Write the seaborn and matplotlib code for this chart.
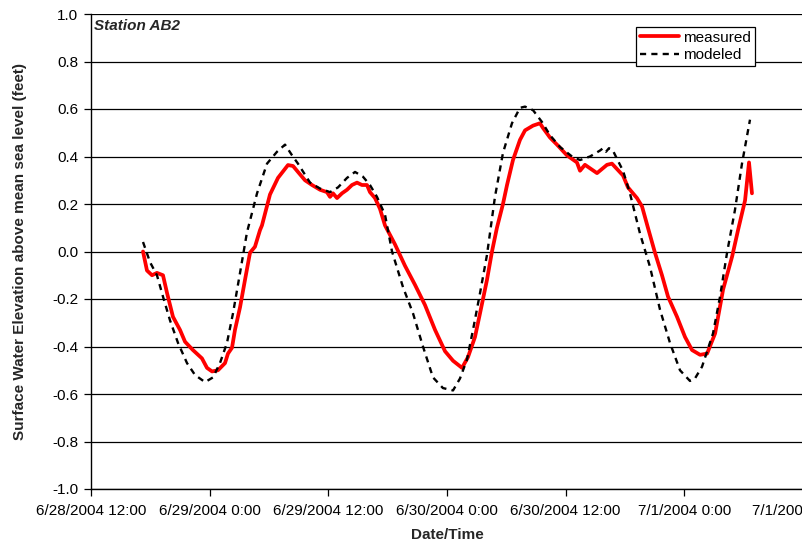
import matplotlib
matplotlib.use("Agg")
import matplotlib.pyplot as plt
import matplotlib.dates as mdates
from matplotlib.ticker import FuncFormatter
import pandas as pd
import seaborn as sns

# Tidal record, Station AB2 -- hours elapsed since 6/28/2004 12:00
START = "2004-06-28 12:00"

hours_measured = [
    5.26, 5.66, 6.17, 6.67, 7.28, 7.69, 8.29, 9.00, 9.51, 10.31, 11.22, 11.73,
    12.24, 12.84, 13.55, 13.85, 14.26, 14.56, 15.07, 15.57, 16.08, 16.58, 17.09,
    17.29, 18.10, 18.91, 19.92, 20.43, 20.93, 21.64, 22.35, 23.16, 23.86, 24.17,
    24.47, 24.88, 25.38, 25.89, 26.39, 26.90, 27.40, 27.91, 28.21, 28.72, 29.22,
    29.73, 30.74, 31.75, 32.76, 33.77, 34.79, 35.80,
    36.61, 37.52, 38.12, 38.83, 39.34, 40.04, 40.55, 41.05, 41.66, 42.07, 42.67,
    43.38, 43.89, 44.70, 45.40, 45.71, 46.41, 47.12, 48.13, 49.14, 49.45, 49.95,
    51.17, 52.18, 52.68, 53.80, 54.30, 55.21, 55.72, 56.32, 57.03, 57.74, 58.35,
    59.26, 60.07, 60.78, 61.59, 62.30, 63.11, 63.92, 64.84, 65.43, 66.14, 66.54,
    66.84,
]
level_measured = [
    0.00, -0.08, -0.10, -0.09, -0.10, -0.175, -0.275, -0.33, -0.38, -0.415, -0.45,
    -0.49, -0.505, -0.50, -0.47, -0.43, -0.405, -0.33, -0.235, -0.12, -0.005, 0.02,
    0.09, 0.11, 0.24, 0.31, 0.364, 0.36, 0.335, 0.30, 0.28, 0.26, 0.25, 0.23,
    0.245, 0.225, 0.245, 0.26, 0.28, 0.29, 0.28, 0.28, 0.25, 0.225, 0.18,
    0.11, 0.03, -0.06, -0.14, -0.225, -0.33, -0.42, -0.46,
    -0.49, -0.445, -0.36, -0.26, -0.12, 0.00, 0.10, 0.20, 0.28, 0.385, 0.47, 0.51,
    0.53, 0.54, 0.52, 0.48, 0.45, 0.405, 0.375, 0.34, 0.365, 0.33, 0.365, 0.37,
    0.32, 0.27, 0.225, 0.19, 0.10, -0.005, -0.10, -0.19, -0.275, -0.36, -0.415,
    -0.435, -0.43, -0.345, -0.16, -0.02, 0.09, 0.215, 0.375, 0.245,
]

hours_modeled = [
    5.26, 5.97, 6.67, 7.28, 7.99, 8.80, 9.71, 10.52, 11.53, 12.34, 13.04, 13.75,
    14.36, 15.07, 15.77, 16.79, 17.80, 18.81, 19.62, 20.33, 20.93, 22.15, 23.16,
    24.17, 24.98, 25.89, 26.70, 27.50, 28.21, 28.92, 29.73, 30.44, 31.55, 32.56,
    33.57, 34.58, 35.59, 36.61, 37.31, 38.02, 38.63, 39.34, 40.04, 40.85, 41.66,
    42.57, 43.38, 43.89, 44.70, 45.61, 46.41, 47.43, 48.64, 49.45, 50.46, 51.47,
    51.78, 52.08, 52.38, 52.78, 53.19, 53.80, 54.50, 55.52, 56.53, 57.54, 58.55,
    59.56, 60.57, 61.07, 61.79, 62.90, 63.61, 64.32, 65.12, 65.83, 66.64,
]
level_modeled = [
    0.04, -0.045, -0.10, -0.19, -0.29, -0.385, -0.47, -0.52, -0.55, -0.53, -0.47,
    -0.385, -0.26, -0.09, 0.08, 0.245, 0.37, 0.42, 0.45, 0.405, 0.37, 0.29, 0.265,
    0.25, 0.27, 0.31, 0.335, 0.315, 0.28, 0.23, 0.155, 0.00, -0.15, -0.26, -0.40,
    -0.53, -0.575, -0.585, -0.535, -0.455, -0.33, -0.175, -0.015, 0.23, 0.415,
    0.54, 0.605, 0.61, 0.595, 0.545, 0.49, 0.44, 0.40, 0.385, 0.40, 0.425, 0.435,
    0.42, 0.435, 0.425, 0.39, 0.34, 0.245, 0.075, -0.065, -0.245, -0.385, -0.50,
    -0.545, -0.535, -0.485, -0.345, -0.19, -0.005, 0.175, 0.37, 0.555,
]

y_ticks = [-1.0, -0.8, -0.6, -0.4, -0.2, 0.0, 0.2, 0.4, 0.6, 0.8, 1.0]

base = pd.Timestamp(START)
measured = pd.DataFrame({
    "time": base + pd.to_timedelta(hours_measured, unit="h"),
    "level": level_measured,
})
modeled = pd.DataFrame({
    "time": base + pd.to_timedelta(hours_modeled, unit="h"),
    "level": level_modeled,
})

sns.set_style("white")
plt.rcParams["font.family"] = ["Liberation Sans", "DejaVu Sans"]

fig = plt.figure(figsize=(8.03, 5.44), dpi=100)
ax = fig.add_axes([91 / 803, 1 - 489 / 544, 712 / 803, 475 / 544])

# horizontal grid
ax.set_axisbelow(True)
ax.yaxis.grid(True, color="black", linewidth=0.9)
ax.xaxis.grid(False)

sns.lineplot(data=measured, x="time", y="level", ax=ax, color="#ff0000",
             linewidth=2.7, label="measured", estimator=None, sort=False)
sns.lineplot(data=modeled, x="time", y="level", ax=ax, color="black",
             linewidth=1.7, label="modeled", estimator=None, sort=False)
ax.lines[-1].set_dashes((2.6, 2.2))

ax.set_xlim(base, base + pd.Timedelta(hours=72))
ax.set_ylim(-1.0, 1.0)
ax.set_yticks(y_ticks)
ax.yaxis.set_major_formatter(FuncFormatter(lambda v, p: f"{v:.1f}"))

ax.xaxis.set_major_locator(mdates.HourLocator(byhour=[0, 12]))


def fmt_date(v, pos):
    d = mdates.num2date(v)
    return f"{d.month}/{d.day}/{d.year} {d.hour}:{d.minute:02d}"


ax.xaxis.set_major_formatter(FuncFormatter(fmt_date))

ax.tick_params(axis="both", which="major", direction="out", length=5,
               width=0.9, color="black", labelsize=11, pad=4, labelcolor="black")
ax.tick_params(axis="x", pad=6)
ax.tick_params(bottom=True, left=True)

for side in ["top", "right"]:
    ax.spines[side].set_visible(False)
for side in ["left", "bottom"]:
    ax.spines[side].set_visible(True)
    ax.spines[side].set_color("black")
    ax.spines[side].set_linewidth(1.0)

ax.set_xlabel("Date/Time", fontsize=11, fontweight="bold", labelpad=7)
ax.set_ylabel("Surface Water Elevation above mean sea level (feet)",
              fontsize=11, fontweight="bold", labelpad=18)

ax.text(0.004, 0.99, "Station AB2", transform=ax.transAxes, fontsize=11,
        fontweight="bold", fontstyle="italic", ha="left", va="top")

leg = ax.legend(loc="upper right", bbox_to_anchor=(0.9326, 0.9726),
                borderaxespad=0, fontsize=11, frameon=True, fancybox=False,
                handlelength=2.6, handletextpad=0.25, borderpad=0.25,
                labelspacing=0.2, edgecolor="black", framealpha=1)
leg.get_frame().set_linewidth(0.9)
for t in leg.get_texts():
    t.set_color("black")

fig.savefig("out.png", dpi=100)
